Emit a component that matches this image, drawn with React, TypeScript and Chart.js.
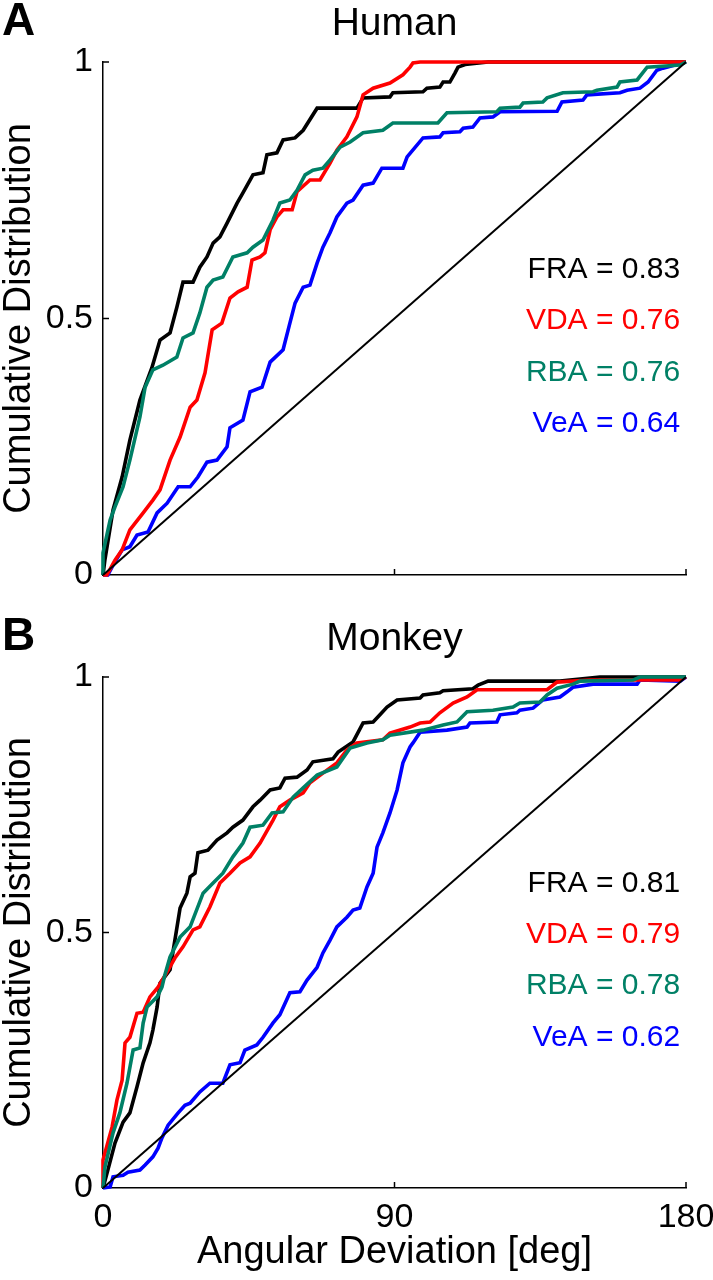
import React, { useEffect, useRef } from 'react';
import { Chart, registerables } from 'chart.js';

Chart.register(...registerables);

// ---------- data ----------
const X_TICKS = [0, 90, 180];
const Y_TICKS = [0, 0.5, 1];
const X_TITLE = 'Angular Deviation [deg]';
const Y_TITLE = 'Cumulative Distribution';
const PANEL_TITLES = ['Human', 'Monkey'];
const PANEL_LETTERS = ['A', 'B'];
const SERIES_NAMES = ['FRA', 'VDA', 'RBA', 'VeA'];
const HUMAN_AUC = ['0.83', '0.76', '0.76', '0.64'];
const MONKEY_AUC = ['0.81', '0.79', '0.78', '0.62'];
const ANNOT_Y = [0.595, 0.495, 0.395, 0.295];
const DIAG_X = [0, 180];
const DIAG_Y = [0, 1];

// Human
const H_FRA_X = [0, 0.6, 3.1, 5.9, 8.3, 11.4, 14.5, 15.1, 17.6, 20.7, 22.8, 24.7, 27.8, 29.9, 32.1, 34.0, 36.1, 38.3, 41.4, 43.2, 46.3, 49.4, 50.6, 53.7, 55.6, 59.3, 61.8, 66.1, 78.4, 80.3, 88.6, 89.5, 98.8, 100.0, 104.0, 105.0, 107.1, 108.7, 109.6, 111.8, 118.9, 180];
const H_FRA_Y = [0, 0.03, 0.127, 0.191, 0.263, 0.341, 0.394, 0.404, 0.458, 0.472, 0.522, 0.571, 0.571, 0.6, 0.62, 0.647, 0.659, 0.686, 0.725, 0.745, 0.78, 0.784, 0.819, 0.823, 0.848, 0.852, 0.867, 0.91, 0.91, 0.93, 0.932, 0.94, 0.942, 0.949, 0.951, 0.961, 0.961, 0.979, 0.99, 0.995, 1, 1];

const H_VDA_X = [0, 1.2, 3.7, 5.9, 8.3, 12.4, 15.4, 17.6, 20.7, 23.8, 26.9, 29.0, 31.5, 33.7, 36.7, 39.2, 41.7, 44.5, 46.0, 48.5, 50.0, 51.6, 53.7, 55.6, 58.4, 59.9, 63.9, 67.0, 70.1, 72.2, 75.3, 78.4, 80.3, 83.4, 88.6, 92.6, 94.8, 95.7, 97.9, 180];
const H_VDA_Y = [0, 0, 0.029, 0.049, 0.088, 0.121, 0.146, 0.166, 0.224, 0.269, 0.327, 0.341, 0.394, 0.478, 0.491, 0.54, 0.552, 0.561, 0.614, 0.62, 0.628, 0.673, 0.698, 0.712, 0.712, 0.747, 0.77, 0.77, 0.803, 0.828, 0.854, 0.893, 0.936, 0.949, 0.959, 0.975, 0.99, 0.998, 1, 1];

const H_RBA_X = [0, 0, 2.2, 3.7, 6.2, 8.3, 11.4, 13.0, 15.4, 18.5, 22.8, 24.7, 27.8, 29.9, 32.1, 34.0, 37.0, 40.1, 44.5, 46.3, 49.4, 52.5, 54.6, 57.7, 59.9, 62.4, 64.8, 67.9, 70.1, 73.2, 76.3, 80.3, 86.4, 89.5, 103.4, 106.2, 121.6, 122.6, 128.7, 129.7, 135.8, 137.1, 142.0, 151.3, 152.5, 158.7, 159.6, 164.9, 168.0, 178.2, 180];
const H_RBA_Y = [0, 0.043, 0.107, 0.133, 0.172, 0.224, 0.308, 0.366, 0.4, 0.409, 0.425, 0.462, 0.472, 0.511, 0.561, 0.575, 0.581, 0.62, 0.628, 0.639, 0.653, 0.692, 0.725, 0.731, 0.75, 0.78, 0.789, 0.793, 0.809, 0.834, 0.844, 0.862, 0.867, 0.881, 0.881, 0.901, 0.903, 0.91, 0.912, 0.92, 0.922, 0.93, 0.94, 0.942, 0.945, 0.951, 0.961, 0.965, 0.99, 0.994, 1];

const H_VEA_X = [0, 1.5, 3.1, 5.9, 8.3, 10.5, 13.9, 16.7, 19.8, 23.2, 26.9, 29.3, 32.1, 35.2, 38.3, 39.2, 43.2, 45.4, 49.1, 51.6, 55.6, 57.7, 59.3, 61.8, 63.9, 66.1, 67.9, 70.1, 72.2, 75.3, 77.2, 80.3, 83.4, 86.1, 92.6, 93.9, 98.8, 104.0, 105.0, 110.2, 111.2, 114.2, 116.4, 120.4, 122.6, 140.2, 141.7, 148.2, 149.4, 159.6, 161.8, 165.8, 168.3, 171.0, 172.9, 180];
const H_VEA_Y = [0, 0, 0.019, 0.049, 0.055, 0.078, 0.084, 0.121, 0.14, 0.172, 0.172, 0.191, 0.22, 0.224, 0.25, 0.287, 0.302, 0.357, 0.366, 0.415, 0.439, 0.491, 0.53, 0.561, 0.565, 0.608, 0.639, 0.667, 0.698, 0.725, 0.731, 0.76, 0.764, 0.793, 0.793, 0.815, 0.852, 0.854, 0.862, 0.864, 0.871, 0.873, 0.891, 0.893, 0.903, 0.904, 0.922, 0.926, 0.936, 0.94, 0.945, 0.949, 0.961, 0.984, 0.988, 1];

// Monkey
const M_FRA_X = [0, 1.5, 3.7, 6.2, 8.3, 10.5, 12.4, 14.5, 15.4, 16.7, 17.6, 20.7, 22.2, 23.8, 25.9, 26.9, 28.4, 29.3, 32.4, 35.2, 38.3, 40.1, 43.2, 46.3, 48.5, 51.6, 54.6, 56.2, 59.9, 63.0, 64.8, 71.0, 72.6, 77.2, 80.3, 83.4, 85.5, 87.7, 90.8, 97.9, 98.8, 104.0, 105.0, 114.2, 115.8, 118.9, 141.1, 153.4, 180];
const M_FRA_Y = [0, 0.035, 0.088, 0.129, 0.147, 0.198, 0.245, 0.284, 0.309, 0.354, 0.401, 0.427, 0.485, 0.548, 0.577, 0.609, 0.616, 0.656, 0.661, 0.681, 0.695, 0.706, 0.72, 0.746, 0.759, 0.779, 0.783, 0.802, 0.804, 0.818, 0.834, 0.84, 0.853, 0.873, 0.91, 0.912, 0.926, 0.941, 0.955, 0.959, 0.965, 0.969, 0.973, 0.977, 0.984, 0.992, 0.992, 1, 1];

const M_VDA_X = [0, 0, 2.8, 4.3, 5.9, 6.8, 8.3, 10.5, 12.4, 14.5, 17.0, 19.8, 22.2, 24.7, 27.8, 29.9, 33.0, 36.1, 39.2, 42.3, 45.4, 48.5, 52.5, 54.6, 57.7, 61.8, 63.9, 67.9, 72.2, 75.3, 78.4, 86.4, 88.6, 94.8, 97.9, 101.0, 104.0, 108.1, 112.4, 115.5, 137.1, 140.2, 150.4, 178.2, 180];
const M_VDA_Y = [0, 0.055, 0.119, 0.172, 0.211, 0.284, 0.295, 0.342, 0.344, 0.374, 0.393, 0.423, 0.45, 0.472, 0.505, 0.511, 0.55, 0.597, 0.616, 0.636, 0.648, 0.675, 0.72, 0.746, 0.759, 0.773, 0.793, 0.812, 0.832, 0.857, 0.871, 0.877, 0.89, 0.902, 0.91, 0.912, 0.93, 0.949, 0.961, 0.975, 0.975, 0.99, 0.994, 0.994, 1];

const M_RBA_X = [0, 0.6, 3.1, 5.2, 7.4, 9.3, 11.4, 12.4, 13.6, 16.7, 18.2, 19.1, 20.7, 23.8, 26.9, 30.9, 34.0, 37.0, 40.1, 43.2, 45.4, 49.4, 52.2, 55.6, 58.7, 61.8, 66.1, 72.2, 76.3, 81.5, 86.4, 88.6, 98.8, 105.0, 109.3, 112.4, 120.4, 126.6, 128.7, 134.9, 137.1, 140.2, 145.1, 147.3, 163.6, 165.8, 180];
const M_RBA_Y = [0, 0.041, 0.108, 0.147, 0.205, 0.27, 0.274, 0.323, 0.354, 0.374, 0.393, 0.417, 0.452, 0.491, 0.511, 0.577, 0.597, 0.616, 0.648, 0.675, 0.706, 0.71, 0.734, 0.736, 0.765, 0.783, 0.808, 0.824, 0.861, 0.871, 0.877, 0.886, 0.896, 0.906, 0.912, 0.932, 0.935, 0.941, 0.949, 0.951, 0.965, 0.978, 0.986, 0.992, 0.994, 1, 1];

const M_VEA_X = [0, 2.2, 3.1, 6.2, 7.7, 11.4, 13.0, 15.4, 17.0, 18.2, 20.1, 23.2, 25.3, 26.9, 29.9, 33.0, 37.0, 39.2, 42.3, 43.8, 47.5, 49.4, 52.5, 54.6, 57.7, 60.8, 63.0, 66.1, 67.9, 70.1, 72.2, 75.3, 77.2, 79.3, 81.5, 83.4, 84.6, 86.4, 88.6, 90.8, 92.6, 94.8, 95.7, 97.9, 106.2, 112.4, 113.3, 121.6, 122.6, 127.8, 128.7, 132.8, 135.8, 141.1, 143.3, 145.1, 151.3, 164.9, 165.8, 178.2, 180];
const M_VEA_Y = [0, 0.002, 0.022, 0.025, 0.031, 0.035, 0.045, 0.061, 0.078, 0.098, 0.123, 0.147, 0.162, 0.166, 0.188, 0.205, 0.205, 0.241, 0.245, 0.27, 0.28, 0.295, 0.323, 0.339, 0.382, 0.384, 0.407, 0.432, 0.46, 0.485, 0.511, 0.53, 0.544, 0.548, 0.589, 0.616, 0.667, 0.695, 0.734, 0.779, 0.832, 0.863, 0.871, 0.892, 0.896, 0.902, 0.91, 0.912, 0.926, 0.93, 0.935, 0.939, 0.955, 0.961, 0.971, 0.98, 0.986, 0.986, 0.994, 0.992, 1];

const COLORS = ['#000000', '#ff0000', '#008066', '#0000ff'];
const FONT = '"Liberation Sans", Arial, Helvetica, sans-serif';

const pts = (xs: number[], ys: number[]) => xs.map((x, i) => ({ x, y: ys[i] }));

type PanelCfg = {
  title: string;
  letter: string;
  auc: string[];
  series: [number[], number[]][];
  showXLabels: boolean;
  height: number;
  top: number;
  bottomGap: number;
};

function makeDecorPlugin(cfg: PanelCfg) {
  return {
    id: 'panelDecor',
    afterDraw(chart: any) {
      const ctx = chart.ctx;
      const xs = chart.scales.x;
      const ys = chart.scales.y;
      const area = chart.chartArea;
      ctx.save();
      // inward tick marks
      ctx.strokeStyle = '#000';
      ctx.lineWidth = 1.5;
      X_TICKS.forEach((v) => {
        if (v === 0) return;
        const px = xs.getPixelForValue(v);
        ctx.beginPath();
        ctx.moveTo(px, area.bottom);
        ctx.lineTo(px, area.bottom - 6);
        ctx.stroke();
      });
      Y_TICKS.forEach((v) => {
        if (v === 0) return;
        const py = ys.getPixelForValue(v);
        ctx.beginPath();
        ctx.moveTo(area.left, py);
        ctx.lineTo(area.left + 6, py);
        ctx.stroke();
      });
      // panel title
      ctx.fillStyle = '#000';
      ctx.textAlign = 'center';
      ctx.textBaseline = 'middle';
      ctx.font = `39px ${FONT}`;
      ctx.fillText(cfg.title, (area.left + area.right) / 2, area.top - 38);
      // panel letter
      ctx.textAlign = 'left';
      ctx.font = `bold 46px ${FONT}`;
      ctx.fillText(cfg.letter, 2, area.top - 40);
      // AUC annotations
      ctx.textAlign = 'right';
      ctx.font = `30px ${FONT}`;
      SERIES_NAMES.forEach((name, i) => {
        ctx.fillStyle = COLORS[i];
        ctx.fillText(`${name} = ${cfg.auc[i]}`, xs.getPixelForValue(178.2), ys.getPixelForValue(ANNOT_Y[i]));
      });
      ctx.restore();
    },
  };
}

function Panel({ cfg }: { cfg: PanelCfg }) {
  const ref = useRef<HTMLCanvasElement | null>(null);
  useEffect(() => {
    if (!ref.current) return;
    const datasets: any[] = [
      {
        label: 'diag',
        data: pts(DIAG_X, DIAG_Y),
        borderColor: '#000',
        borderWidth: 2,
      },
    ];
    // draw order: green on top, then red, blue, black
    const order = [2, 1, 3, 0];
    order.forEach((idx) => {
      datasets.push({
        label: SERIES_NAMES[idx],
        data: pts(cfg.series[idx][0], cfg.series[idx][1]),
        borderColor: COLORS[idx],
        borderWidth: 3.6,
      });
    });
    const chart = new Chart(ref.current, {
      type: 'line',
      data: { datasets },
      options: {
        responsive: false,
        animation: false,
        devicePixelRatio: 1,
        layout: { padding: { top: cfg.top, right: 27, left: 0, bottom: 0 } },
        elements: {
          point: { radius: 0 },
          line: { tension: 0, borderJoinStyle: 'miter', borderCapStyle: 'butt' },
        },
        datasets: { line: { clip: false } as any },
        plugins: { legend: { display: false }, tooltip: { enabled: false }, title: { display: false } },
        scales: {
          x: {
            type: 'linear',
            min: 0,
            max: 180,
            afterBuildTicks: (s: any) => {
              s.ticks = X_TICKS.map((v) => ({ value: v }));
            },
            afterFit: (s: any) => {
              s.height = cfg.bottomGap;
              s.paddingLeft = 0;
              s.paddingRight = 0;
            },
            grid: { display: false, drawTicks: false },
            border: { display: true, color: '#000', width: 1.5 },
            ticks: {
              display: cfg.showXLabels,
              padding: 9,
              color: '#000',
              font: { family: FONT, size: 34 },
              maxRotation: 0,
              autoSkip: false,
            },
            title: {
              display: cfg.showXLabels,
              text: X_TITLE,
              color: '#000',
              font: { family: FONT, size: 38, lineHeight: 1.0 },
              padding: { top: 0, bottom: 8 },
            },
          },
          y: {
            type: 'linear',
            min: 0,
            max: 1,
            afterBuildTicks: (s: any) => {
              s.ticks = Y_TICKS.map((v) => ({ value: v }));
            },
            afterFit: (s: any) => {
              s.width = 103;
              s.paddingTop = 0;
              s.paddingBottom = 0;
            },
            grid: { display: false, drawTicks: false },
            border: { display: true, color: '#000', width: 1.5 },
            ticks: {
              padding: 10,
              color: '#000',
              font: { family: FONT, size: 34 },
              callback: (v: any) => String(v),
            },
            title: {
              display: true,
              text: Y_TITLE,
              color: '#000',
              font: { family: FONT, size: 38, lineHeight: 1.0 },
              padding: { top: 1, bottom: 0 },
            },
          },
        },
      },
      plugins: [makeDecorPlugin(cfg)],
    });
    return () => chart.destroy();
  }, [cfg]);
  return <canvas ref={ref} width={713} height={cfg.height} style={{ display: 'block', width: 713, height: cfg.height }} />;
}

const HUMAN: PanelCfg = {
  title: PANEL_TITLES[0],
  letter: PANEL_LETTERS[0],
  auc: HUMAN_AUC,
  series: [
    [H_FRA_X, H_FRA_Y],
    [H_VDA_X, H_VDA_Y],
    [H_RBA_X, H_RBA_Y],
    [H_VEA_X, H_VEA_Y],
  ],
  showXLabels: false,
  height: 610,
  top: 62,
  bottomGap: 35,
};

const MONKEY: PanelCfg = {
  title: PANEL_TITLES[1],
  letter: PANEL_LETTERS[1],
  auc: MONKEY_AUC,
  series: [
    [M_FRA_X, M_FRA_Y],
    [M_VDA_X, M_VDA_Y],
    [M_RBA_X, M_RBA_Y],
    [M_VEA_X, M_VEA_Y],
  ],
  showXLabels: true,
  height: 670,
  top: 67,
  bottomGap: 92,
};

export default function App() {
  return (
    <div style={{ position: 'absolute', left: 0, top: 0, width: 713, height: 1280, background: '#fff' }}>
      <Panel cfg={HUMAN} />
      <Panel cfg={MONKEY} />
    </div>
  );
}
